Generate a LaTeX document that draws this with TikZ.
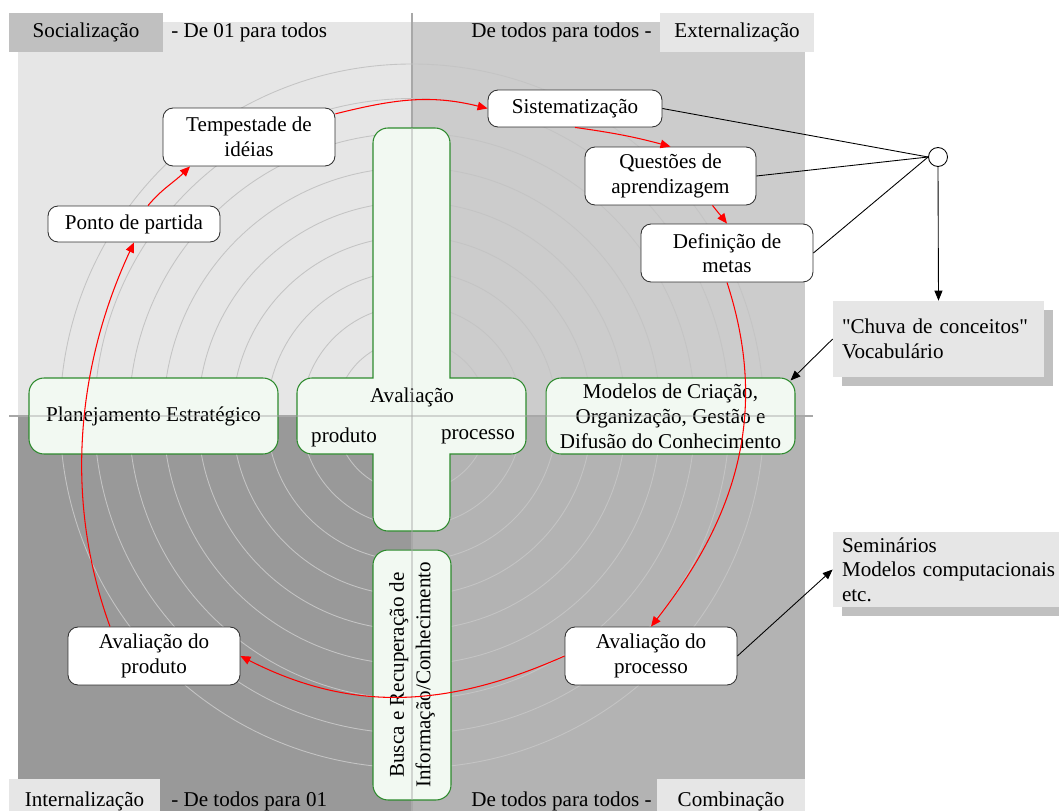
\documentclass[tikz,border=0pt]{standalone}
\usepackage{fontspec}
\setmainfont{Liberation Serif}
\usetikzlibrary{arrows.meta,calc,shadows}
\definecolor{pTL}{HTML}{E6E6E6}
\definecolor{pTR}{HTML}{CCCCCC}
\definecolor{pBL}{HTML}{999999}
\definecolor{pBR}{HTML}{B3B3B3}
\definecolor{ring}{HTML}{C4C4C4}
\definecolor{axisc}{HTML}{A8A8A8}
\definecolor{gfill}{HTML}{F2F9F2}
\definecolor{gline}{HTML}{2E8B2E}
\definecolor{labdark}{HTML}{C0C0C0}
\definecolor{lablight}{HTML}{E6E6E6}
\definecolor{shadowc}{HTML}{C0C0C0}
\begin{document}
\begin{tikzpicture}[x=0.02cm,y=0.02cm,
  every node/.append style={font=\fontsize{12}{14}\selectfont},
  wbox/.style={draw=black!80, fill=white, rounded corners=0.2cm, align=center,
    minimum width=3.44cm, minimum height=1.16cm, inner sep=0pt, line width=0.5pt},
  gbox/.style={draw=gline, fill=gfill, rounded corners=0.3cm, align=center,
    inner sep=0pt, line width=0.6pt},
  gshape/.style={draw=gline, fill=gfill, line width=0.6pt},
  redarrow/.style={red, line width=0.6pt, -{Triangle[length=0.2cm,width=0.17cm]}},
  blackline/.style={black, line width=0.5pt},
  blackarrow/.style={black, line width=0.5pt, -{Triangle[length=0.2cm,width=0.16cm]}},
  note/.style={fill=lablight, align=left, inner ysep=0pt, inner xsep=0.18cm,
    general shadow={fill=shadowc, shadow xshift=0.18cm, shadow yshift=-0.18cm}},
  tagbox/.style={inner sep=0pt, minimum height=0.78cm},
  bottag/.style={inner sep=0pt, fill=lablight, minimum height=0.64cm, text height=0.45cm, text depth=0pt},
  ringline/.style={draw=ring, line width=0.5pt},
  axisline/.style={draw=axisc, line width=1.1pt}
]
\useasboundingbox (0,0) rectangle (1059,-811);

% quadrants
\fill[pTL] (18,-22) rectangle (412,-416);
\fill[pTR] (412,-22) rectangle (805,-416);
\fill[pBL] (18,-416) rectangle (412,-811);
\fill[pBR] (412,-416) rectangle (805,-811);

% axes (under)
\draw[axisline] (412,-13) -- (412,-811);
\draw[axisline] (9,-416) -- (813,-416);

% concentric rings
\foreach \r in {352,317.5,283,248.5,214,179.5,145,110.5,76,41.5}
  \draw[ringline] (412,-416) circle[radius=\r];

% green boxes
\node[gbox, minimum width=4.98cm, minimum height=1.52cm] (plan) at (153.5,-416) {Planejamento Estrat\'egico};
\node[gbox, minimum width=4.98cm, minimum height=1.52cm, font=\fontsize{12}{14.2}\selectfont] (modelos) at (670.5,-416)
  {Modelos de Cria\c{c}\~ao,\\Organiza\c{c}\~ao, Gest\~ao e\\Difus\~ao do Conhecimento};
\node[gbox, rotate=90, minimum width=5cm, minimum height=1.56cm, font=\fontsize{12}{15}\selectfont] (busca) at (412,-675)
  {Busca e Recupera\c{c}\~ao de\\Informa\c{c}\~ao/Conhecimento};
\draw[gshape] (373,-378) -- (373,-143) arc[start angle=180,end angle=90,radius=15]
  -- (435,-128) arc[start angle=90,end angle=0,radius=15]
  -- (450,-378) -- (511,-378) arc[start angle=90,end angle=0,radius=15]
  -- (526,-439) arc[start angle=0,end angle=-90,radius=15]
  -- (450,-454) -- (450,-516) arc[start angle=0,end angle=-90,radius=15]
  -- (388,-531) arc[start angle=-90,end angle=-180,radius=15]
  -- (373,-454) -- (312,-454) arc[start angle=-90,end angle=-180,radius=15]
  -- (297,-393) arc[start angle=180,end angle=90,radius=15] -- cycle;
\node (aval) at (412,-397) {Avalia\c{c}\~ao};
\node (avprod) at (344,-437) {produto};
\node (avproc) at (478,-437) {processo};

% axes (overlay, faint)
\draw[axisline, opacity=0.45] (412,-128) -- (412,-800);
\draw[axisline, opacity=0.45] (29,-416) -- (795,-416);

% white nodes
\node[wbox, minimum height=0.72cm] (ponto) at (134,-224) {Ponto de partida};
\node[wbox] (tempest) at (249,-137) {Tempestade de\\id\'eias};
\node[wbox, minimum width=3.48cm, minimum height=0.74cm] (sist) at (575,-108.5) {Sistematiza\c{c}\~ao};
\node[wbox, minimum width=3.42cm] (quest) at (670.5,-176) {Quest\~oes de\\aprendizagem};
\node[wbox] (def) at (727,-253) {Defini\c{c}\~ao de\\metas};
\node[wbox] (proc) at (651,-656) {Avalia\c{c}\~ao do\\processo};
\node[wbox] (prod) at (154,-656) {Avalia\c{c}\~ao do\\produto};

% red cycle
\draw[redarrow] (tempest.15) to[out=14,in=166] (sist.west);
\draw[redarrow] (sist.south) to[out=-8,in=165] (quest.north);
\draw[redarrow] ($(quest.south)+(42,0)$) to[out=-52,in=128] (def.north);
\draw[redarrow] (def.south) to[out=-72,in=52] (proc.north);
\draw[redarrow] (proc.west) to[out=-156,in=-27] (prod.east);
\draw[redarrow] ($(prod.north)+(-44,0)$) to[out=110,in=245,looseness=0.9] (ponto.south);
\draw[redarrow] ($(ponto.north)+(14,0)$) to[out=50,in=225] ($(tempest.south)+(-59,0)$);

% hub and notes
\node[draw=black, fill=white, circle, minimum size=0.38cm, inner sep=0pt, line width=0.5pt] (hub) at (938,-157) {};
\node[note, text width=3.86cm, minimum height=1.52cm] (chuva) at (938.5,-339) {\textquotedbl Chuva de conceitos\textquotedbl\\Vocabul\'ario};
\node[note, text width=4.3cm, minimum height=1.5cm, font=\fontsize{12}{13.9}\selectfont] (sem) at (949.5,-569.5) {Semin\'arios\\Modelos computacionais\\etc.};

\draw[blackline] (sist.east) -- (hub.west);
\draw[blackline] (quest.east) -- (hub.west);
\draw[blackline] (def.east) -- (hub.west);
\draw[blackarrow] (hub.south) -- (chuva.north);
\draw[blackarrow] (chuva.west) -- ($(modelos.north east)+(-5,-3)$);
\draw[blackarrow] (proc.east) -- (sem.west);

% corner labels
\node[tagbox, fill=labdark, minimum width=3.08cm] (soc) at (86,-32.5) {Socializa\c{c}\~ao};
\node[anchor=west, inner sep=0pt] (soct) at (171,-32.5) {- De 01 para todos};
\node[anchor=east, inner sep=0pt] (extt) at (652,-32.5) {De todos para todos -};
\node[tagbox, fill=lablight, minimum width=3.08cm] (ext) at (737,-32.5) {Externaliza\c{c}\~ao};
\node[bottag, minimum width=3.02cm] (intl) at (84.5,-795) {Internaliza\c{c}\~ao};
\node[anchor=west, inner sep=0pt] (intt) at (171,-801) {- De todos para 01};
\node[anchor=east, inner sep=0pt] (combt) at (652,-801) {De todos para todos -};
\node[bottag, minimum width=2.96cm] (comb) at (731,-795) {Combina\c{c}\~ao};
\end{tikzpicture}
\end{document}
